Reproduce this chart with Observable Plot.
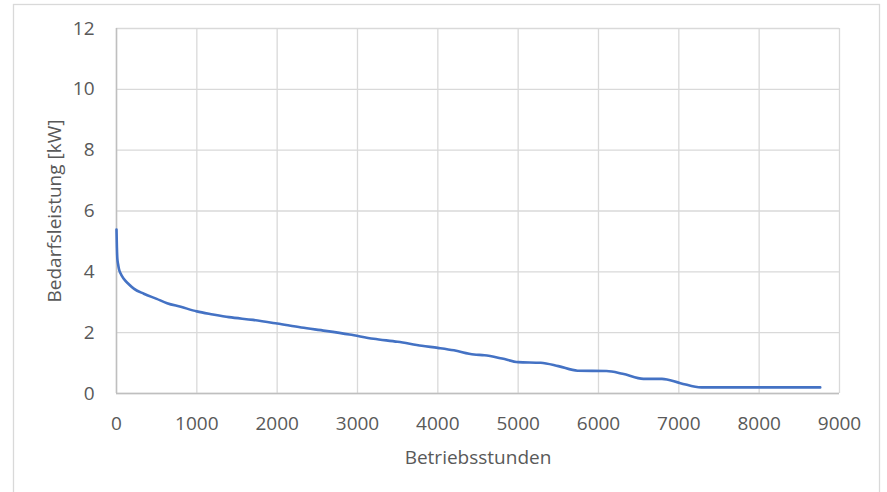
<!DOCTYPE html>
<html>
<head>
<meta charset="utf-8">
<script src="https://cdn.jsdelivr.net/npm/d3@7"></script>
<script src="https://cdn.jsdelivr.net/npm/@observablehq/plot@0.6"></script>
<style>
  html, body { margin: 0; padding: 0; background: #fff; }
  #chart { width: 887px; height: 492px; }
</style>
</head>
<body>
<div id="chart"></div>
<script>
const hours = [0, 5, 10, 20, 30, 50, 90, 150, 220, 340, 500, 630, 800, 1000, 1200, 1400, 1700, 2000, 2300, 2600, 2900, 3200, 3500, 3800, 4000, 4200, 4450, 4580, 4800, 5000, 5280, 5500, 5740, 6100, 6300, 6560, 6790, 7020, 7280, 8760];
const kw =    [5.39, 4.8, 4.45, 4.25, 4.1, 3.95, 3.77, 3.6, 3.44, 3.28, 3.11, 2.97, 2.85, 2.70, 2.60, 2.51, 2.42, 2.30, 2.17, 2.06, 1.94, 1.80, 1.70, 1.57, 1.50, 1.42, 1.28, 1.26, 1.15, 1.03, 1.01, 0.90, 0.75, 0.74, 0.65, 0.48, 0.48, 0.34, 0.20, 0.20];
const xTicks = [0, 1000, 2000, 3000, 4000, 5000, 6000, 7000, 8000, 9000];
const yTicks = [0, 2, 4, 6, 8, 10, 12];
const xLabel = "Betriebsstunden";
const yLabel = "Bedarfsleistung [kW]";

const data = hours.map((h, i) => ({h, v: kw[i]}));

const font = "'Open Sans', sans-serif";
const plot = Plot.plot({
  width: 887,
  height: 492,
  marginLeft: 116,
  marginRight: 48,
  marginTop: 28,
  marginBottom: 99,
  style: {fontFamily: font, fontSize: "19px", color: "#595959", background: "#fff"},
  x: {domain: [0, 9000], ticks: xTicks},
  y: {domain: [0, 12], ticks: yTicks},
  marks: [
    Plot.gridX(xTicks, {stroke: "#d9d9d9", strokeOpacity: 1, strokeWidth: 1.3}),
    Plot.gridY(yTicks, {stroke: "#d9d9d9", strokeOpacity: 1, strokeWidth: 1.3}),
    Plot.ruleX([0], {stroke: "#bfbfbf", strokeWidth: 1.5}),
    Plot.ruleY([0], {stroke: "#bfbfbf", strokeWidth: 1.5}),
    Plot.axisX(xTicks, {tickSize: 0, tickPadding: 23, tickFormat: d => String(d), label: null, fill: "#595959", fontSize: 19}),
    Plot.axisY(yTicks, {tickSize: 0, tickPadding: 22, tickFormat: d => String(d), label: null, fill: "#595959", fontSize: 19}),
    Plot.line(data, {x: "h", y: "v", stroke: "#4472C4", strokeWidth: 2.6, curve: "monotone-x"}),
    Plot.text([xLabel], {frameAnchor: "bottom", dy: 70, lineAnchor: "bottom", fill: "#595959", fontSize: 19}),
    Plot.text([yLabel], {frameAnchor: "left", dx: -62, rotate: -90, textAnchor: "middle", lineAnchor: "middle", fill: "#595959", fontSize: 19})
  ]
});
document.getElementById("chart").appendChild(plot);
d3.select(plot).insert("rect", ":first-child")
  .attr("x", 13.5).attr("y", 4.5).attr("width", 866).attr("height", 500)
  .attr("fill", "none").attr("stroke", "#d9d9d9").attr("stroke-width", 1.3);
</script>
</body>
</html>
